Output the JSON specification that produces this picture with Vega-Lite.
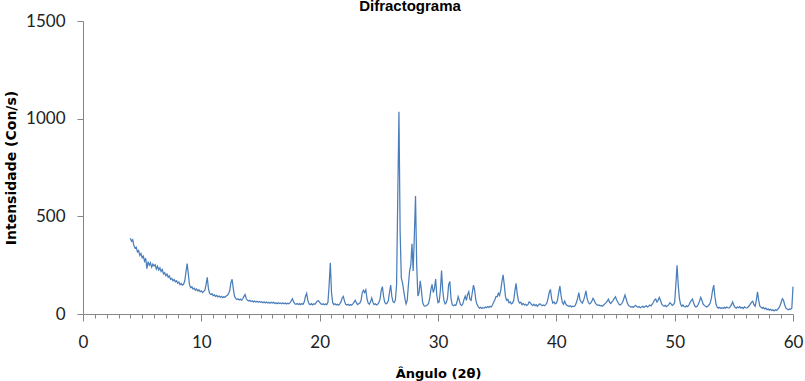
{
  "$schema": "https://vega.github.io/schema/vega-lite/v6.json",
  "autosize": "none",
  "width": 710,
  "height": 293,
  "padding": {"left": 83, "top": 21, "right": 12, "bottom": 67},
  "background": "white",
  "config": {"view": {"stroke": null}},
  "title": {"text": "Difractograma", "font": "Liberation Sans", "fontSize": 15, "fontWeight": "bold", "color": "#000", "anchor": "middle", "dx": -28, "offset": -14, "baseline": "alphabetic"},
  "data": {"values": [
{"angle":4.0,"counts":388},{"angle":4.1,"counts":372},{"angle":4.2,"counts":380},{"angle":4.3,"counts":350},{"angle":4.4,"counts":338},{"angle":4.5,"counts":342},{"angle":4.6,"counts":318},{"angle":4.7,"counts":325},{"angle":4.8,"counts":300},{"angle":4.9,"counts":310},
{"angle":5.0,"counts":288},{"angle":5.1,"counts":296},{"angle":5.2,"counts":270},{"angle":5.3,"counts":285},{"angle":5.4,"counts":232},{"angle":5.5,"counts":268},{"angle":5.6,"counts":250},{"angle":5.7,"counts":262},{"angle":5.8,"counts":240},{"angle":5.9,"counts":255},
{"angle":6.0,"counts":246},{"angle":6.1,"counts":252},{"angle":6.2,"counts":230},{"angle":6.3,"counts":244},{"angle":6.4,"counts":225},{"angle":6.5,"counts":236},{"angle":6.6,"counts":218},{"angle":6.7,"counts":228},{"angle":6.8,"counts":205},{"angle":6.9,"counts":212},
{"angle":7.0,"counts":196},{"angle":7.1,"counts":204},{"angle":7.2,"counts":188},{"angle":7.3,"counts":195},{"angle":7.4,"counts":178},{"angle":7.5,"counts":182},{"angle":7.6,"counts":170},{"angle":7.7,"counts":176},{"angle":7.8,"counts":165},{"angle":7.9,"counts":170},
{"angle":8.0,"counts":158},{"angle":8.1,"counts":164},{"angle":8.2,"counts":150},{"angle":8.3,"counts":156},{"angle":8.4,"counts":148},{"angle":8.5,"counts":152},{"angle":8.6,"counts":170},{"angle":8.7,"counts":215},{"angle":8.8,"counts":258},{"angle":8.9,"counts":205},
{"angle":9.0,"counts":150},{"angle":9.1,"counts":135},{"angle":9.2,"counts":140},{"angle":9.3,"counts":128},{"angle":9.4,"counts":132},{"angle":9.5,"counts":122},{"angle":9.6,"counts":128},{"angle":9.7,"counts":118},{"angle":9.8,"counts":124},{"angle":9.9,"counts":114},
{"angle":10.0,"counts":118},{"angle":10.1,"counts":110},{"angle":10.2,"counts":116},{"angle":10.3,"counts":122},{"angle":10.4,"counts":150},{"angle":10.5,"counts":188},{"angle":10.6,"counts":130},{"angle":10.7,"counts":105},{"angle":10.8,"counts":100},{"angle":10.9,"counts":104},
{"angle":11.0,"counts":94},{"angle":11.1,"counts":98},{"angle":11.2,"counts":90},{"angle":11.3,"counts":95},{"angle":11.4,"counts":88},{"angle":11.5,"counts":92},{"angle":11.6,"counts":86},{"angle":11.7,"counts":90},{"angle":11.8,"counts":84},{"angle":11.9,"counts":88},
{"angle":12.0,"counts":86},{"angle":12.1,"counts":92},{"angle":12.2,"counts":96},{"angle":12.3,"counts":104},{"angle":12.4,"counts":120},{"angle":12.5,"counts":160},{"angle":12.6,"counts":178},{"angle":12.7,"counts":130},{"angle":12.8,"counts":92},{"angle":12.9,"counts":80},
{"angle":13.0,"counts":74},{"angle":13.1,"counts":78},{"angle":13.2,"counts":72},{"angle":13.3,"counts":76},{"angle":13.4,"counts":70},{"angle":13.5,"counts":78},{"angle":13.6,"counts":90},{"angle":13.7,"counts":100},{"angle":13.8,"counts":78},{"angle":13.9,"counts":70},
{"angle":14.0,"counts":66},{"angle":14.1,"counts":70},{"angle":14.2,"counts":64},{"angle":14.3,"counts":68},{"angle":14.4,"counts":62},{"angle":14.5,"counts":66},{"angle":14.6,"counts":61},{"angle":14.7,"counts":65},{"angle":14.8,"counts":60},{"angle":14.9,"counts":64},
{"angle":15.0,"counts":60},{"angle":15.1,"counts":63},{"angle":15.2,"counts":58},{"angle":15.3,"counts":62},{"angle":15.4,"counts":57},{"angle":15.5,"counts":61},{"angle":15.6,"counts":56},{"angle":15.7,"counts":60},{"angle":15.8,"counts":55},{"angle":15.9,"counts":60},
{"angle":16.0,"counts":56},{"angle":16.1,"counts":60},{"angle":16.2,"counts":54},{"angle":16.3,"counts":58},{"angle":16.4,"counts":53},{"angle":16.5,"counts":58},{"angle":16.6,"counts":54},{"angle":16.7,"counts":57},{"angle":16.8,"counts":52},{"angle":16.9,"counts":56},
{"angle":17.0,"counts":52},{"angle":17.1,"counts":56},{"angle":17.2,"counts":51},{"angle":17.3,"counts":55},{"angle":17.4,"counts":52},{"angle":17.5,"counts":58},{"angle":17.6,"counts":68},{"angle":17.7,"counts":78},{"angle":17.8,"counts":62},{"angle":17.9,"counts":52},
{"angle":18.0,"counts":50},{"angle":18.1,"counts":54},{"angle":18.2,"counts":49},{"angle":18.3,"counts":53},{"angle":18.4,"counts":48},{"angle":18.5,"counts":54},{"angle":18.6,"counts":50},{"angle":18.7,"counts":62},{"angle":18.8,"counts":90},{"angle":18.9,"counts":106},
{"angle":19.0,"counts":70},{"angle":19.1,"counts":52},{"angle":19.2,"counts":48},{"angle":19.3,"counts":53},{"angle":19.4,"counts":47},{"angle":19.5,"counts":52},{"angle":19.6,"counts":50},{"angle":19.7,"counts":58},{"angle":19.8,"counts":66},{"angle":19.9,"counts":68},
{"angle":20.0,"counts":60},{"angle":20.1,"counts":52},{"angle":20.2,"counts":48},{"angle":20.3,"counts":52},{"angle":20.4,"counts":47},{"angle":20.5,"counts":51},{"angle":20.6,"counts":48},{"angle":20.7,"counts":60},{"angle":20.8,"counts":150},{"angle":20.9,"counts":262},
{"angle":21.0,"counts":110},{"angle":21.1,"counts":58},{"angle":21.2,"counts":48},{"angle":21.3,"counts":52},{"angle":21.4,"counts":46},{"angle":21.5,"counts":50},{"angle":21.6,"counts":45},{"angle":21.7,"counts":52},{"angle":21.8,"counts":62},{"angle":21.9,"counts":82},
{"angle":22.0,"counts":90},{"angle":22.1,"counts":66},{"angle":22.2,"counts":50},{"angle":22.3,"counts":46},{"angle":22.4,"counts":50},{"angle":22.5,"counts":44},{"angle":22.6,"counts":49},{"angle":22.7,"counts":45},{"angle":22.8,"counts":52},{"angle":22.9,"counts":60},
{"angle":23.0,"counts":70},{"angle":23.1,"counts":58},{"angle":23.2,"counts":48},{"angle":23.3,"counts":52},{"angle":23.4,"counts":56},{"angle":23.5,"counts":70},{"angle":23.6,"counts":108},{"angle":23.7,"counts":122},{"angle":23.8,"counts":110},{"angle":23.9,"counts":124},
{"angle":24.0,"counts":78},{"angle":24.1,"counts":55},{"angle":24.2,"counts":50},{"angle":24.3,"counts":62},{"angle":24.4,"counts":82},{"angle":24.5,"counts":60},{"angle":24.6,"counts":48},{"angle":24.7,"counts":52},{"angle":24.8,"counts":46},{"angle":24.9,"counts":50},
{"angle":25.0,"counts":58},{"angle":25.1,"counts":75},{"angle":25.2,"counts":120},{"angle":25.3,"counts":140},{"angle":25.4,"counts":90},{"angle":25.5,"counts":60},{"angle":25.6,"counts":52},{"angle":25.7,"counts":56},{"angle":25.8,"counts":68},{"angle":25.9,"counts":110},
{"angle":26.0,"counts":148},{"angle":26.1,"counts":90},{"angle":26.2,"counts":62},{"angle":26.3,"counts":58},{"angle":26.4,"counts":72},{"angle":26.5,"counts":150},{"angle":26.6,"counts":600},{"angle":26.7,"counts":1036},{"angle":26.8,"counts":420},{"angle":26.9,"counts":185},
{"angle":27.0,"counts":160},{"angle":27.1,"counts":120},{"angle":27.2,"counts":80},{"angle":27.3,"counts":52},{"angle":27.4,"counts":70},{"angle":27.5,"counts":150},{"angle":27.6,"counts":220},{"angle":27.7,"counts":250},{"angle":27.8,"counts":360},{"angle":27.9,"counts":220},
{"angle":28.0,"counts":400},{"angle":28.1,"counts":604},{"angle":28.2,"counts":250},{"angle":28.3,"counts":92},{"angle":28.4,"counts":110},{"angle":28.5,"counts":170},{"angle":28.6,"counts":120},{"angle":28.7,"counts":60},{"angle":28.8,"counts":44},{"angle":28.9,"counts":40},
{"angle":29.0,"counts":42},{"angle":29.1,"counts":46},{"angle":29.2,"counts":54},{"angle":29.3,"counts":80},{"angle":29.4,"counts":125},{"angle":29.5,"counts":152},{"angle":29.6,"counts":110},{"angle":29.7,"counts":130},{"angle":29.8,"counts":179},{"angle":29.9,"counts":95},
{"angle":30.0,"counts":58},{"angle":30.1,"counts":62},{"angle":30.2,"counts":120},{"angle":30.3,"counts":222},{"angle":30.4,"counts":120},{"angle":30.5,"counts":70},{"angle":30.6,"counts":52},{"angle":30.7,"counts":58},{"angle":30.8,"counts":80},{"angle":30.9,"counts":150},
{"angle":31.0,"counts":166},{"angle":31.1,"counts":80},{"angle":31.2,"counts":48},{"angle":31.3,"counts":42},{"angle":31.4,"counts":46},{"angle":31.5,"counts":44},{"angle":31.6,"counts":60},{"angle":31.7,"counts":89},{"angle":31.8,"counts":70},{"angle":31.9,"counts":48},
{"angle":32.0,"counts":44},{"angle":32.1,"counts":52},{"angle":32.2,"counts":75},{"angle":32.3,"counts":92},{"angle":32.4,"counts":70},{"angle":32.5,"counts":100},{"angle":32.6,"counts":114},{"angle":32.7,"counts":75},{"angle":32.8,"counts":70},{"angle":32.9,"counts":110},
{"angle":33.0,"counts":148},{"angle":33.1,"counts":120},{"angle":33.2,"counts":70},{"angle":33.3,"counts":48},{"angle":33.4,"counts":38},{"angle":33.5,"counts":30},{"angle":33.6,"counts":34},{"angle":33.7,"counts":28},{"angle":33.8,"counts":32},{"angle":33.9,"counts":30},
{"angle":34.0,"counts":36},{"angle":34.1,"counts":32},{"angle":34.2,"counts":38},{"angle":34.3,"counts":34},{"angle":34.4,"counts":40},{"angle":34.5,"counts":36},{"angle":34.6,"counts":46},{"angle":34.7,"counts":60},{"angle":34.8,"counts":72},{"angle":34.9,"counts":90},
{"angle":35.0,"counts":88},{"angle":35.1,"counts":106},{"angle":35.2,"counts":95},{"angle":35.3,"counts":120},{"angle":35.4,"counts":165},{"angle":35.5,"counts":200},{"angle":35.6,"counts":150},{"angle":35.7,"counts":90},{"angle":35.8,"counts":70},{"angle":35.9,"counts":75},
{"angle":36.0,"counts":58},{"angle":36.1,"counts":62},{"angle":36.2,"counts":52},{"angle":36.3,"counts":56},{"angle":36.4,"counts":70},{"angle":36.5,"counts":120},{"angle":36.6,"counts":157},{"angle":36.7,"counts":100},{"angle":36.8,"counts":66},{"angle":36.9,"counts":56},
{"angle":37.0,"counts":60},{"angle":37.1,"counts":48},{"angle":37.2,"counts":54},{"angle":37.3,"counts":46},{"angle":37.4,"counts":50},{"angle":37.5,"counts":44},{"angle":37.6,"counts":48},{"angle":37.7,"counts":62},{"angle":37.8,"counts":58},{"angle":37.9,"counts":48},
{"angle":38.0,"counts":44},{"angle":38.1,"counts":50},{"angle":38.2,"counts":42},{"angle":38.3,"counts":48},{"angle":38.4,"counts":40},{"angle":38.5,"counts":46},{"angle":38.6,"counts":52},{"angle":38.7,"counts":48},{"angle":38.8,"counts":42},{"angle":38.9,"counts":46},
{"angle":39.0,"counts":42},{"angle":39.1,"counts":48},{"angle":39.2,"counts":56},{"angle":39.3,"counts":80},{"angle":39.4,"counts":110},{"angle":39.5,"counts":126},{"angle":39.6,"counts":80},{"angle":39.7,"counts":56},{"angle":39.8,"counts":62},{"angle":39.9,"counts":52},
{"angle":40.0,"counts":56},{"angle":40.1,"counts":70},{"angle":40.2,"counts":110},{"angle":40.3,"counts":143},{"angle":40.4,"counts":95},{"angle":40.5,"counts":60},{"angle":40.6,"counts":50},{"angle":40.7,"counts":66},{"angle":40.8,"counts":52},{"angle":40.9,"counts":44},
{"angle":41.0,"counts":42},{"angle":41.1,"counts":38},{"angle":41.2,"counts":42},{"angle":41.3,"counts":36},{"angle":41.4,"counts":40},{"angle":41.5,"counts":38},{"angle":41.6,"counts":44},{"angle":41.7,"counts":60},{"angle":41.8,"counts":80},{"angle":41.9,"counts":109},
{"angle":42.0,"counts":72},{"angle":42.1,"counts":62},{"angle":42.2,"counts":56},{"angle":42.3,"counts":70},{"angle":42.4,"counts":90},{"angle":42.5,"counts":119},{"angle":42.6,"counts":80},{"angle":42.7,"counts":60},{"angle":42.8,"counts":52},{"angle":42.9,"counts":56},
{"angle":43.0,"counts":66},{"angle":43.1,"counts":80},{"angle":43.2,"counts":70},{"angle":43.3,"counts":56},{"angle":43.4,"counts":48},{"angle":43.5,"counts":44},{"angle":43.6,"counts":46},{"angle":43.7,"counts":42},{"angle":43.8,"counts":44},{"angle":43.9,"counts":40},
{"angle":44.0,"counts":46},{"angle":44.1,"counts":52},{"angle":44.2,"counts":58},{"angle":44.3,"counts":66},{"angle":44.4,"counts":76},{"angle":44.5,"counts":60},{"angle":44.6,"counts":54},{"angle":44.7,"counts":62},{"angle":44.8,"counts":70},{"angle":44.9,"counts":80},
{"angle":45.0,"counts":88},{"angle":45.1,"counts":72},{"angle":45.2,"counts":60},{"angle":45.3,"counts":50},{"angle":45.4,"counts":46},{"angle":45.5,"counts":52},{"angle":45.6,"counts":60},{"angle":45.7,"counts":78},{"angle":45.8,"counts":97},{"angle":45.9,"counts":78},
{"angle":46.0,"counts":56},{"angle":46.1,"counts":44},{"angle":46.2,"counts":40},{"angle":46.3,"counts":36},{"angle":46.4,"counts":38},{"angle":46.5,"counts":34},{"angle":46.6,"counts":40},{"angle":46.7,"counts":44},{"angle":46.8,"counts":38},{"angle":46.9,"counts":34},
{"angle":47.0,"counts":38},{"angle":47.1,"counts":32},{"angle":47.2,"counts":36},{"angle":47.3,"counts":40},{"angle":47.4,"counts":34},{"angle":47.5,"counts":38},{"angle":47.6,"counts":42},{"angle":47.7,"counts":36},{"angle":47.8,"counts":40},{"angle":47.9,"counts":46},
{"angle":48.0,"counts":42},{"angle":48.1,"counts":50},{"angle":48.2,"counts":60},{"angle":48.3,"counts":72},{"angle":48.4,"counts":77},{"angle":48.5,"counts":62},{"angle":48.6,"counts":70},{"angle":48.7,"counts":85},{"angle":48.8,"counts":70},{"angle":48.9,"counts":52},
{"angle":49.0,"counts":44},{"angle":49.1,"counts":40},{"angle":49.2,"counts":44},{"angle":49.3,"counts":38},{"angle":49.4,"counts":42},{"angle":49.5,"counts":48},{"angle":49.6,"counts":58},{"angle":49.7,"counts":52},{"angle":49.8,"counts":44},{"angle":49.9,"counts":48},
{"angle":50.0,"counts":60},{"angle":50.1,"counts":150},{"angle":50.2,"counts":250},{"angle":50.3,"counts":150},{"angle":50.4,"counts":80},{"angle":50.5,"counts":50},{"angle":50.6,"counts":40},{"angle":50.7,"counts":46},{"angle":50.8,"counts":38},{"angle":50.9,"counts":36},
{"angle":51.0,"counts":42},{"angle":51.1,"counts":38},{"angle":51.2,"counts":46},{"angle":51.3,"counts":58},{"angle":51.4,"counts":68},{"angle":51.5,"counts":76},{"angle":51.6,"counts":58},{"angle":51.7,"counts":42},{"angle":51.8,"counts":36},{"angle":51.9,"counts":40},
{"angle":52.0,"counts":50},{"angle":52.1,"counts":66},{"angle":52.2,"counts":85},{"angle":52.3,"counts":70},{"angle":52.4,"counts":52},{"angle":52.5,"counts":44},{"angle":52.6,"counts":40},{"angle":52.7,"counts":36},{"angle":52.8,"counts":40},{"angle":52.9,"counts":46},
{"angle":53.0,"counts":56},{"angle":53.1,"counts":80},{"angle":53.2,"counts":120},{"angle":53.3,"counts":148},{"angle":53.4,"counts":90},{"angle":53.5,"counts":50},{"angle":53.6,"counts":34},{"angle":53.7,"counts":30},{"angle":53.8,"counts":34},{"angle":53.9,"counts":28},
{"angle":54.0,"counts":32},{"angle":54.1,"counts":28},{"angle":54.2,"counts":34},{"angle":54.3,"counts":30},{"angle":54.4,"counts":36},{"angle":54.5,"counts":32},{"angle":54.6,"counts":30},{"angle":54.7,"counts":38},{"angle":54.8,"counts":48},{"angle":54.9,"counts":62},
{"angle":55.0,"counts":44},{"angle":55.1,"counts":34},{"angle":55.2,"counts":30},{"angle":55.3,"counts":36},{"angle":55.4,"counts":32},{"angle":55.5,"counts":38},{"angle":55.6,"counts":30},{"angle":55.7,"counts":34},{"angle":55.8,"counts":28},{"angle":55.9,"counts":36},
{"angle":56.0,"counts":32},{"angle":56.1,"counts":30},{"angle":56.2,"counts":36},{"angle":56.3,"counts":42},{"angle":56.4,"counts":52},{"angle":56.5,"counts":60},{"angle":56.6,"counts":65},{"angle":56.7,"counts":48},{"angle":56.8,"counts":40},{"angle":56.9,"counts":70},
{"angle":57.0,"counts":114},{"angle":57.1,"counts":70},{"angle":57.2,"counts":40},{"angle":57.3,"counts":34},{"angle":57.4,"counts":30},{"angle":57.5,"counts":34},{"angle":57.6,"counts":26},{"angle":57.7,"counts":30},{"angle":57.8,"counts":22},{"angle":57.9,"counts":26},
{"angle":58.0,"counts":20},{"angle":58.1,"counts":24},{"angle":58.2,"counts":18},{"angle":58.3,"counts":22},{"angle":58.4,"counts":16},{"angle":58.5,"counts":22},{"angle":58.6,"counts":18},{"angle":58.7,"counts":24},{"angle":58.8,"counts":30},{"angle":58.9,"counts":42},
{"angle":59.0,"counts":60},{"angle":59.1,"counts":78},{"angle":59.2,"counts":70},{"angle":59.3,"counts":46},{"angle":59.4,"counts":30},{"angle":59.5,"counts":26},{"angle":59.6,"counts":22},{"angle":59.7,"counts":26},{"angle":59.8,"counts":24},{"angle":59.9,"counts":30},
{"angle":60.0,"counts":140}
  ]},
  "mark": {"type": "line", "color": "#4a7ebb", "strokeWidth": 1.25, "interpolate": "linear"},
  "encoding": {
    "x": {
      "field": "angle", "type": "quantitative",
      "scale": {"domain": [0, 60], "nice": false, "zero": false},
      "axis": {
        "title": "Ângulo (2θ)",
        "titleFont": "DejaVu Sans", "titleFontSize": 13, "titleFontWeight": "bold", "titleColor": "#000",
        "titleX": 355, "titleY": 63, "titleBaseline": "alphabetic", "titleAlign": "center",
        "values": [0,1,2,3,4,5,6,7,8,9,10,11,12,13,14,15,16,17,18,19,20,21,22,23,24,25,26,27,28,29,30,31,32,33,34,35,36,37,38,39,40,41,42,43,44,45,46,47,48,49,50,51,52,53,54,55,56,57,58,59,60],
        "labelExpr": "datum.value % 10 === 0 ? datum.label : ''",
        "labelOverlap": false, "labelFlush": false, "labelBound": false,
        "labelFont": "Lato", "labelFontSize": 17, "labelColor": "#222",
        "labelPadding": 13,
        "tickSize": {"condition": {"test": "datum.value % 10 === 0", "value": 7}, "value": 4},
        "tickColor": "#868686", "domainColor": "#868686", "grid": false
      }
    },
    "y": {
      "field": "counts", "type": "quantitative",
      "scale": {"domain": [0, 1500], "nice": false},
      "axis": {
        "title": "Intensidade (Con/s)",
        "titleFont": "DejaVu Sans", "titleFontSize": 14, "titleFontWeight": "bold", "titleColor": "#000",
        "titleAngle": -90, "titleX": -72, "titleY": 146.5, "titleBaseline": "middle", "titleAlign": "center",
        "values": [0, 500, 1000, 1500],
        "format": "d",
        "labelFont": "Lato", "labelFontSize": 17, "labelColor": "#222",
        "labelPadding": 12, "tickSize": 6,
        "tickColor": "#868686", "domainColor": "#868686", "grid": false
      }
    }
  }
}
